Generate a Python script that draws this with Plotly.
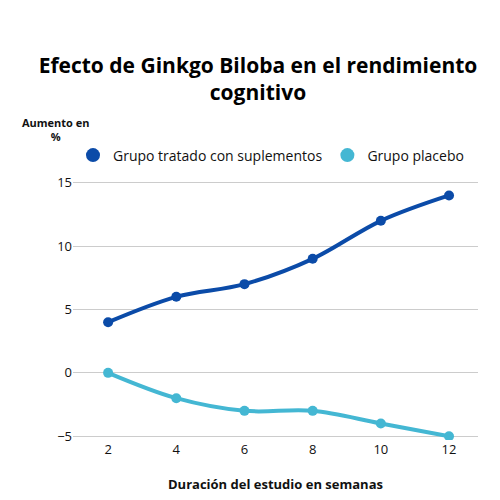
import plotly.graph_objects as go

weeks = [2, 4, 6, 8, 10, 12]
treated = [4, 6, 7, 9, 12, 14]
placebo = [0, -2, -3, -3, -4, -5]
y_ticks = [-5, 0, 5, 10, 15]
c1, c2 = "#0B4BA8", "#44B7D3"

fig = go.Figure()
for name, vals, c in [("Grupo tratado con suplementos", treated, c1), ("Grupo placebo", placebo, c2)]:
    fig.add_trace(go.Scatter(x=weeks, y=vals, mode="lines+markers", showlegend=False,
        line=dict(color=c, width=4, shape="spline"), marker=dict(size=10, color=c)))
    fig.add_trace(go.Scatter(x=[None], y=[None], mode="markers", name=name,
        marker=dict(size=14, color=c)))

fig.update_layout(
    width=500, height=500, plot_bgcolor="white", paper_bgcolor="white",
    font=dict(family="Open Sans", color="#111", size=13),
    margin=dict(l=65, r=30, t=171, b=68, autoexpand=False),
    title=dict(text="<b>Efecto de Ginkgo Biloba en el rendimiento<br>cognitivo</b>",
               x=0.5, xanchor="center", y=0.87, yanchor="middle", font=dict(size=21, color="#000")),
    legend=dict(orientation="h", x=0.0, y=1.09, xanchor="left", yanchor="middle",
                font=dict(size=14), itemwidth=30),
    xaxis=dict(range=[0.97, 12.85], tickvals=weeks, showgrid=False, zeroline=False,
               ticks="", tickfont=dict(size=13), automargin=False),
    yaxis=dict(range=[-5.3, 15.3], tickvals=y_ticks, showgrid=True, gridcolor="#ccc",
               zeroline=False, ticks="", tickfont=dict(size=13), automargin=False),
    annotations=[
        dict(text="<b>Aumento en<br>%</b>", xref="paper", yref="paper",
             x=-0.13, y=1.19, xanchor="left", yanchor="middle", showarrow=False,
             align="center", font=dict(size=11)),
        dict(text="<b>Duración del estudio en semanas</b>", xref="paper", yref="paper",
             x=0.5, y=-0.17, xanchor="center", yanchor="middle", showarrow=False,
             font=dict(size=13)),
    ],
)
fig.write_html("out.html")
